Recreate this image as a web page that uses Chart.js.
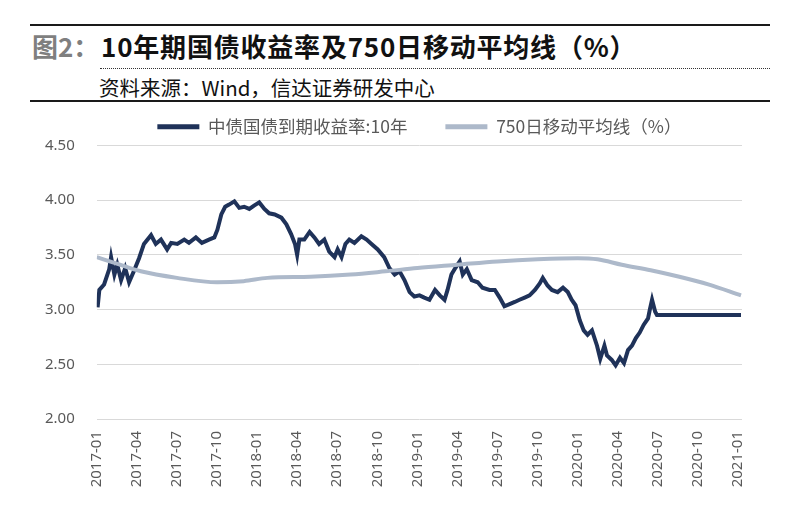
<!DOCTYPE html>
<html>
<head>
<meta charset="utf-8">
<script src="https://cdn.jsdelivr.net/npm/chart.js@4.4.0/dist/chart.umd.min.js"></script>
<style>
  html, body { margin: 0; padding: 0; background: #fff; }
  #wrap { position: relative; width: 800px; height: 527px; overflow: hidden; font-family: 'Noto Sans CJK SC', sans-serif; }
  .rule { position: absolute; left: 30px; width: 740px; height: 2px; background: #1a1a1a; }
  .head { position: absolute; white-space: nowrap; font-weight: bold; font-size: 26px; line-height: 30px; top: 31px; }
  #fig { left: 32px; color: #7f7f7f; }
  #title { left: 101px; color: #111; letter-spacing: 0.8px; }
  #dots { position: absolute; left: 100px; width: 670px; top: 68px; border-top: 1px dotted #333; }
  #source { position: absolute; left: 99px; top: 73px; font-size: 20.5px; line-height: 28px; color: #111; white-space: nowrap; }
  canvas { position: absolute; left: 0; top: 0; }
</style>
</head>
<body>
<div id="wrap">
  <div class="rule" style="top:24px"></div>
  <div class="head" id="fig">图2：</div>
  <div class="head" id="title">10年期国债收益率及750日移动平均线（%）</div>
  <div id="dots"></div>
  <div id="source">资料来源：Wind，信达证券研发中心</div>
  <div class="rule" style="top:100px"></div>
  <canvas id="chart" width="800" height="527"></canvas>
</div>
<script>
// ===== Data =====
const quarterLabels = ['2017-01', '2017-04', '2017-07', '2017-10', '2018-01', '2018-04', '2018-07', '2018-10',
    '2019-01', '2019-04', '2019-07', '2019-10', '2020-01', '2020-04', '2020-07', '2020-10', '2021-01'];

const yieldDates = [
    '2017-01-03', '2017-01-07', '2017-01-18', '2017-01-30', '2017-02-03', '2017-02-10', '2017-02-16', '2017-02-24',
    '2017-03-05', '2017-03-14', '2017-03-25', '2017-04-06', '2017-04-17', '2017-05-03', '2017-05-14', '2017-05-26',
    '2017-06-09', '2017-06-18', '2017-07-02', '2017-07-18', '2017-07-29', '2017-08-14', '2017-08-28', '2017-09-13',
    '2017-09-25', '2017-10-02', '2017-10-11', '2017-10-20', '2017-10-29', '2017-11-10', '2017-11-21', '2017-12-02',
    '2017-12-14', '2017-12-25', '2018-01-06', '2018-01-18', '2018-01-29', '2018-02-10', '2018-02-24', '2018-03-07',
    '2018-03-18', '2018-03-27', '2018-04-01', '2018-04-06', '2018-04-17', '2018-04-29', '2018-05-10', '2018-05-21',
    '2018-06-02', '2018-06-13', '2018-06-25', '2018-07-02', '2018-07-11', '2018-07-20', '2018-07-29', '2018-08-10',
    '2018-08-26', '2018-09-07', '2018-09-18', '2018-10-02', '2018-10-17', '2018-10-29', '2018-11-10', '2018-11-21',
    '2018-12-02', '2018-12-14', '2018-12-25', '2019-01-06', '2019-01-17', '2019-01-29', '2019-02-10', '2019-02-20',
    '2019-03-02', '2019-03-09', '2019-03-18', '2019-03-27', '2019-04-06', '2019-04-13', '2019-04-22', '2019-05-03',
    '2019-05-17', '2019-05-28', '2019-06-13', '2019-06-25', '2019-07-06', '2019-07-17', '2019-07-29', '2019-08-10',
    '2019-08-21', '2019-09-02', '2019-09-13', '2019-09-25', '2019-10-06', '2019-10-13', '2019-10-24', '2019-11-03',
    '2019-11-16', '2019-11-28', '2019-12-09', '2019-12-18', '2019-12-27', '2020-01-06', '2020-01-15', '2020-01-24',
    '2020-02-03', '2020-02-14', '2020-02-21', '2020-03-01', '2020-03-07', '2020-03-18', '2020-03-27', '2020-04-06',
    '2020-04-15', '2020-04-24', '2020-05-03', '2020-05-12', '2020-05-21', '2020-05-30', '2020-06-09', '2020-06-13',
    '2020-06-18', '2020-06-25', '2020-06-29', '2021-01-08'
];
const yieldValues = [
    3.02, 3.18, 3.23, 3.37, 3.48, 3.32, 3.41, 3.27,
    3.38, 3.25, 3.35, 3.47, 3.60, 3.68, 3.60, 3.64,
    3.55, 3.61, 3.60, 3.64, 3.61, 3.66, 3.61, 3.64,
    3.66, 3.73, 3.87, 3.94, 3.96, 3.99, 3.93, 3.94,
    3.92, 3.95, 3.98, 3.92, 3.88, 3.87, 3.84, 3.78,
    3.69, 3.60, 3.50, 3.64, 3.64, 3.71, 3.66, 3.60,
    3.64, 3.53, 3.48, 3.55, 3.48, 3.60, 3.64, 3.61,
    3.67, 3.64, 3.60, 3.55, 3.48, 3.38, 3.32, 3.35,
    3.27, 3.16, 3.12, 3.13, 3.11, 3.09, 3.18, 3.13,
    3.09, 3.18, 3.32, 3.38, 3.44, 3.32, 3.37, 3.27,
    3.25, 3.20, 3.18, 3.18, 3.11, 3.03, 3.05, 3.07,
    3.09, 3.11, 3.13, 3.18, 3.24, 3.29, 3.22, 3.18,
    3.16, 3.20, 3.16, 3.09, 3.04, 2.90, 2.81, 2.77,
    2.81, 2.67, 2.55, 2.67, 2.58, 2.54, 2.49, 2.56,
    2.51, 2.63, 2.67, 2.74, 2.79, 2.86, 2.92, 3.00,
    3.09, 2.98, 2.95, 2.95
];

const maDates = [
    '2017-01-01', '2017-02-15', '2017-04-10', '2017-07-01', '2017-10-01', '2017-12-01', '2018-01-25',
    '2018-05-01', '2018-08-01', '2018-10-20', '2019-01-01', '2019-04-01', '2019-07-01', '2019-10-01',
    '2020-01-01', '2020-02-15', '2020-04-10', '2020-06-15', '2020-08-20', '2020-10-25', '2021-01-08'
];
const maValues = [
    3.48, 3.42, 3.35, 3.29, 3.25, 3.26, 3.29,
    3.30, 3.32, 3.35, 3.38, 3.41, 3.44, 3.46,
    3.47, 3.46, 3.41, 3.36, 3.30, 3.23, 3.13
];

// months elapsed since 2017-01-01, used as the x value
function monthIndex(str) {
    const [y, m, d] = str.split('-').map(Number);
    const days = new Date(y, m, 0).getDate();
    return (y - 2017) * 12 + (m - 1) + (d - 1) / days;
}

const toPoints = (dates, values) => dates.map((d, i) => ({ x: monthIndex(d), y: values[i] }));

const tickFont = { family: "'Noto Sans', sans-serif", size: 15 };

new Chart(document.getElementById('chart'), {
    type: 'line',
    data: {
        datasets: [
            {
                label: '中债国债到期收益率:10年',
                data: toPoints(yieldDates, yieldValues),
                borderColor: '#1f3259',
                borderWidth: 4,
                pointRadius: 0,
                tension: 0,
                order: 1
            },
            {
                label: '750日移动平均线（%）',
                data: toPoints(maDates, maValues),
                borderColor: '#adb9ca',
                borderWidth: 4,
                pointRadius: 0,
                cubicInterpolationMode: 'monotone',
                order: 0
            }
        ]
    },
    options: {
        responsive: false,
        animation: false,
        layout: {
            // y axis reserves its tick padding twice, so the left padding is smaller
            padding: { left: 23, right: 58, top: 80, bottom: 0 }
        },
        plugins: {
            legend: {
                position: 'top',
                fullSize: false,
                labels: {
                    boxWidth: 42,
                    boxHeight: 5,
                    padding: 38,
                    color: '#595959',
                    font: { family: "'Noto Sans CJK SC', sans-serif", size: 17.5 },
                    generateLabels: chart => chart.data.datasets.map((ds, i) => ({
                        text: ds.label,
                        fillStyle: ds.borderColor,
                        strokeStyle: ds.borderColor,
                        lineWidth: 0,
                        fontColor: '#595959',
                        datasetIndex: i,
                        hidden: false
                    }))
                }
            },
            tooltip: { enabled: false }
        },
        scales: {
            x: {
                type: 'linear',
                min: 0,
                max: 48.3,
                afterFit: scale => { scale.height = 108; },
                grid: { display: false, drawTicks: false },
                border: { display: false },
                ticks: {
                    stepSize: 3,
                    includeBounds: false,
                    autoSkip: false,
                    maxRotation: 90,
                    minRotation: 90,
                    padding: 12,
                    color: '#595959',
                    font: tickFont,
                    callback: value => quarterLabels[value / 3]
                }
            },
            y: {
                min: 2,
                max: 4.5,
                grid: { color: '#d9d9d9', lineWidth: 1, drawTicks: false },
                border: { display: false },
                ticks: {
                    stepSize: 0.5,
                    padding: 22,
                    color: '#595959',
                    font: tickFont,
                    callback: value => value.toFixed(2)
                }
            }
        }
    }
});
</script>
</body>
</html>
